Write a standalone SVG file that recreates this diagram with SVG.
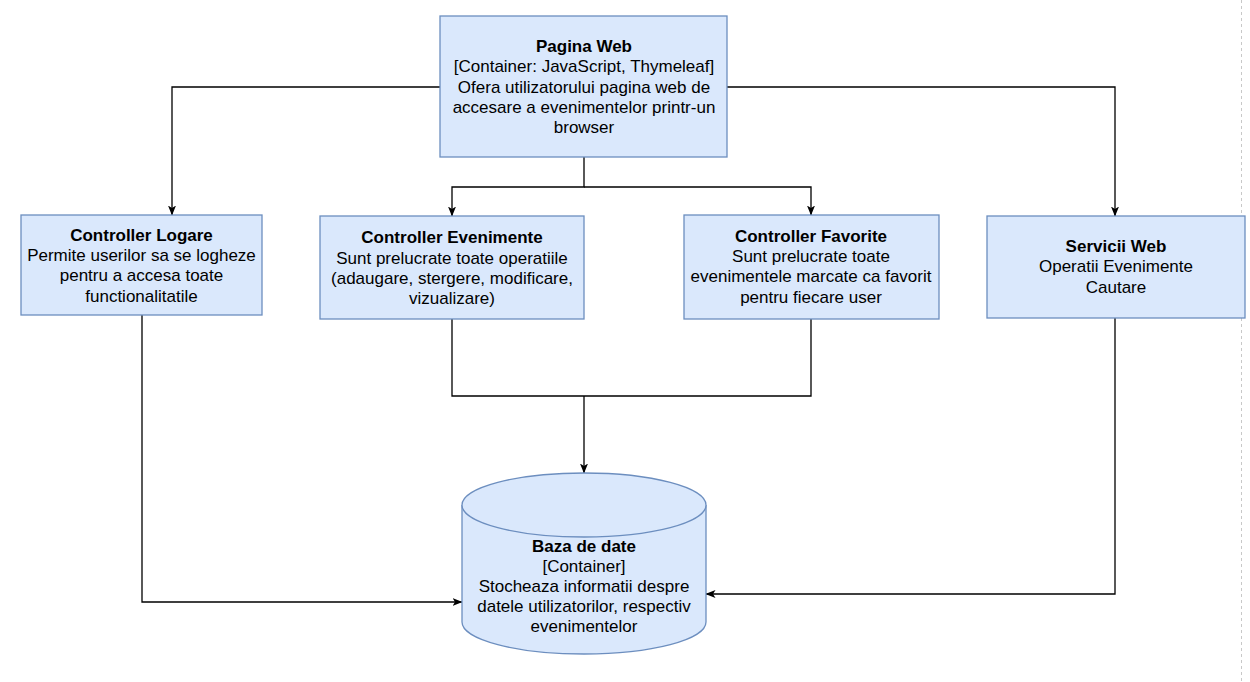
<svg xmlns="http://www.w3.org/2000/svg" width="1250" height="682" viewBox="0 0 1250 682">
<defs>
<style>
.box{fill:#dae8fc;stroke:#6c8ebf;stroke-width:1.3}
.t{font-family:"Liberation Sans",Arial,sans-serif;font-size:17px;fill:#000;text-anchor:middle;dominant-baseline:central}
.b{font-weight:bold}
.c{fill:none;stroke:#000;stroke-width:1.3}
</style>
<marker id="arr" viewBox="0 0 10 10" refX="9.5" refY="5" markerWidth="10" markerHeight="10" markerUnits="userSpaceOnUse" orient="auto">
<path d="M0,1 L10,5 L0,9 L2.5,5 z" fill="#000"/>
</marker>
</defs>
<rect width="1250" height="682" fill="#ffffff"/>
<line x1="1241.5" y1="0" x2="1241.5" y2="682" stroke="#c8c8c8" stroke-width="1" stroke-dasharray="3 3"/>
<g id="connectors">
<path class="c" d="M440,87 H172 V215" marker-end="url(#arr)"/>
<path class="c" d="M727,87 H1115 V216" marker-end="url(#arr)"/>
<path class="c" d="M584,157 V187 H452 V216" marker-end="url(#arr)"/>
<path class="c" d="M584,187 H811 V215" marker-end="url(#arr)"/>
<path class="c" d="M452,319 V396 H811 V319"/>
<path class="c" d="M584,396 V473" marker-end="url(#arr)"/>
<path class="c" d="M142,315 V602 H462" marker-end="url(#arr)"/>
<path class="c" d="M1115,318 V594 H706" marker-end="url(#arr)"/>
</g>
<g id="pagina-web">
<rect class="box" x="440" y="16" width="287" height="141"/>
<text class="t b" x="584" y="46">Pagina Web</text>
<text class="t" x="584" y="66.5">[Container: JavaScript, Thymeleaf]</text>
<text class="t" x="584" y="87">Ofera utilizatorului pagina web de</text>
<text class="t" x="584" y="107">accesare a evenimentelor printr-un</text>
<text class="t" x="584" y="127.5">browser</text>
</g>
<g id="controller-logare">
<rect class="box" x="21" y="215" width="241" height="100"/>
<text class="t b" x="141.5" y="235">Controller Logare</text>
<text class="t" x="141.5" y="255">Permite userilor sa se logheze</text>
<text class="t" x="141.5" y="275">pentru a accesa toate</text>
<text class="t" x="141.5" y="296">functionalitatile</text>
</g>
<g id="controller-evenimente">
<rect class="box" x="320" y="216" width="264" height="103"/>
<text class="t b" x="452" y="237">Controller Evenimente</text>
<text class="t" x="452" y="258">Sunt prelucrate toate operatiile</text>
<text class="t" x="452" y="278">(adaugare, stergere, modificare,</text>
<text class="t" x="452" y="298">vizualizare)</text>
</g>
<g id="controller-favorite">
<rect class="box" x="684" y="215" width="255" height="104"/>
<text class="t b" x="811" y="236">Controller Favorite</text>
<text class="t" x="811" y="256">Sunt prelucrate toate</text>
<text class="t" x="811" y="276">evenimentele marcate ca favorit</text>
<text class="t" x="811" y="297">pentru fiecare user</text>
</g>
<g id="servicii-web">
<rect class="box" x="987" y="216" width="258" height="102"/>
<text class="t b" x="1116" y="246">Servicii Web</text>
<text class="t" x="1116" y="266">Operatii Evenimente</text>
<text class="t" x="1116" y="287">Cautare</text>
</g>
<g id="baza-de-date">
<path class="box" d="M462,505 A122,32 0 0 1 706,505 V622 A122,32 0 0 1 462,622 Z"/>
<path class="box" fill="none" d="M462,505 A122,32 0 0 0 706,505"/>
<text class="t b" x="584" y="546">Baza de date</text>
<text class="t" x="584" y="566">[Container]</text>
<text class="t" x="584" y="586">Stocheaza informatii despre</text>
<text class="t" x="584" y="606">datele utilizatorilor, respectiv</text>
<text class="t" x="584" y="626">evenimentelor</text>
</g>
</svg>
